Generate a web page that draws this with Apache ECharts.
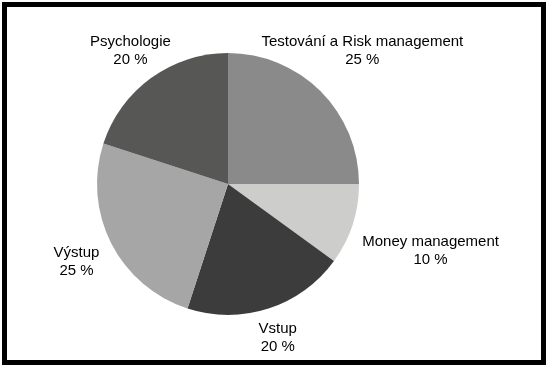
<!DOCTYPE html>
<html>
<head>
<meta charset="utf-8">
<script src="https://cdn.jsdelivr.net/npm/echarts@6/dist/echarts.min.js"></script>
<style>
  html, body { margin: 0; padding: 0; background: #fff; }
  #chart { position: absolute; left: 0; top: 0; width: 551px; height: 370px; }
  #frame { position: absolute; left: 2px; top: 2px; width: 544px; height: 363px;
           box-sizing: border-box; border: 5px solid #000; pointer-events: none; }
</style>
</head>
<body>
<div id="chart"></div>
<div id="frame"></div>
<script>
// Data
const categories = ['Testování a Risk management', 'Money management', 'Vstup', 'Výstup', 'Psychologie'];
const values = [25, 10, 20, 25, 20];
const colors = ['#8a8a8a', '#cdcecb', '#3c3c3c', '#a6a6a6', '#575856'];

// Layout (label distance from pie centre, px)
const labelRadius = [190, 213, 161, 170, 166];
const cx = 228, cy = 184, R = 131;

const total = values.reduce((a, b) => a + b, 0);
const midAngles = [];
let acc = 0;
values.forEach(v => { midAngles.push((acc + v / 2) / total * 2 * Math.PI); acc += v; });

const chart = echarts.init(document.getElementById('chart'), null, { renderer: 'canvas' });
chart.setOption({
  backgroundColor: '#fff',
  animation: false,
  series: [{
    type: 'pie',
    center: [cx, cy],
    radius: [0, R],
    startAngle: 90,
    clockwise: true,
    avoidLabelOverlap: false,
    data: categories.map((name, i) => ({ name, value: values[i], itemStyle: { color: colors[i] } })),
    itemStyle: { borderWidth: 0 },
    label: {
      show: true,
      position: 'outside',
      formatter: p => p.name + '\n' + p.value + ' %',
      fontFamily: 'Liberation Sans, Arial, sans-serif',
      fontSize: 15,
      lineHeight: 18,
      color: '#000',
      align: 'center'
    },
    labelLine: { show: false },
    labelLayout: function (params) {
      const i = params.dataIndex;
      const a = midAngles[i];
      return {
        x: cx + labelRadius[i] * Math.sin(a),
        y: cy - labelRadius[i] * Math.cos(a) + 1,
        align: 'center',
        verticalAlign: 'middle'
      };
    }
  }]
});
</script>
</body>
</html>
